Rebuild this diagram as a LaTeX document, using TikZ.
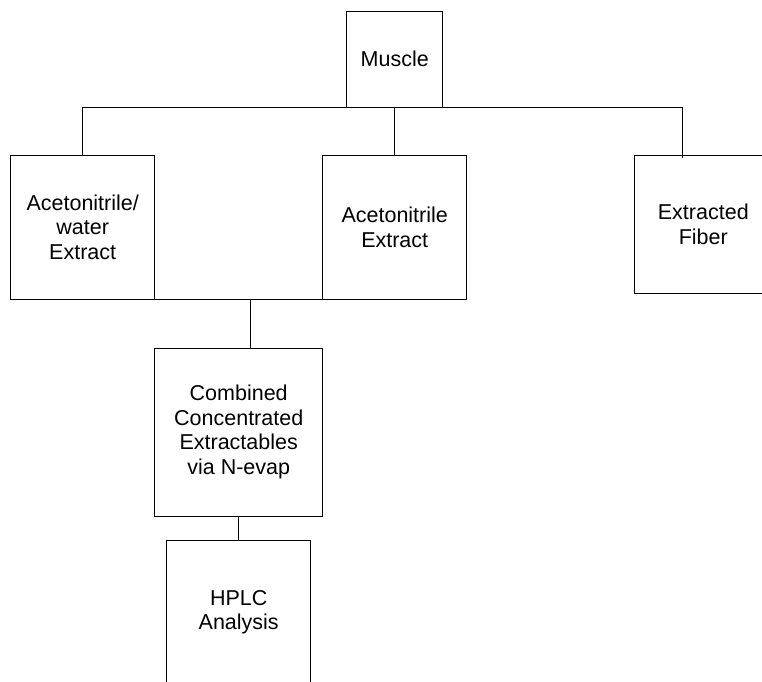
\documentclass[tikz,border=0pt]{standalone}
\usepackage{fontspec}
\setmainfont{Liberation Sans}
\usetikzlibrary{positioning}

\begin{document}
\begin{tikzpicture}[x=1pt, y=-1pt,
    stage/.style={rectangle, draw=black, line width=1pt, fill=white,
                  inner sep=0pt, outer sep=0pt,
                  minimum width=#1, minimum height=#1, align=center,
                  font=\fontsize{21.5}{24.5}\selectfont},
    stage/.default={144pt},
    link/.style={draw=black, line width=1pt},
]
    \useasboundingbox (0,0) rectangle (762,681);
    \clip (0,0) rectangle (762,681);

    % ── Source ──
    \node[stage=96pt] (muscle) at (394.7,59.3) {Muscle};

    % ── Extraction ──
    \node[stage] (acnwater) at (82.7,227.3) {Acetonitrile/\\water\\Extract};
    \node[stage, right=168pt of acnwater] (acn) {Acetonitrile\\Extract};
    \node[stage=138pt] (fiber) at (703.3,224.3) {Extracted\\Fiber};

    \coordinate (fibertap) at (682.3,107.3);
    \draw[link] (acnwater.north) -- (acnwater.north |- muscle.south)
                -- (fibertap) -- ([yshift=-2.5pt]fibertap |- fiber.north);
    \draw[link] (muscle) -- (acn);

    % ── Concentration ──
    \node[stage=168pt] (combined) at (238.7,432) {Combined\\Concentrated\\Extractables\\via N-evap};
    \node[stage, below=24pt of combined] (hplc) {HPLC\\Analysis};

    \coordinate (merge) at (250.7,299.3);
    \draw[link] (acnwater.south) -- (acn.south);
    \draw[link] (merge) -- (merge |- combined.north);
    \draw[link] (combined) -- (hplc);

\end{tikzpicture}
\end{document}
